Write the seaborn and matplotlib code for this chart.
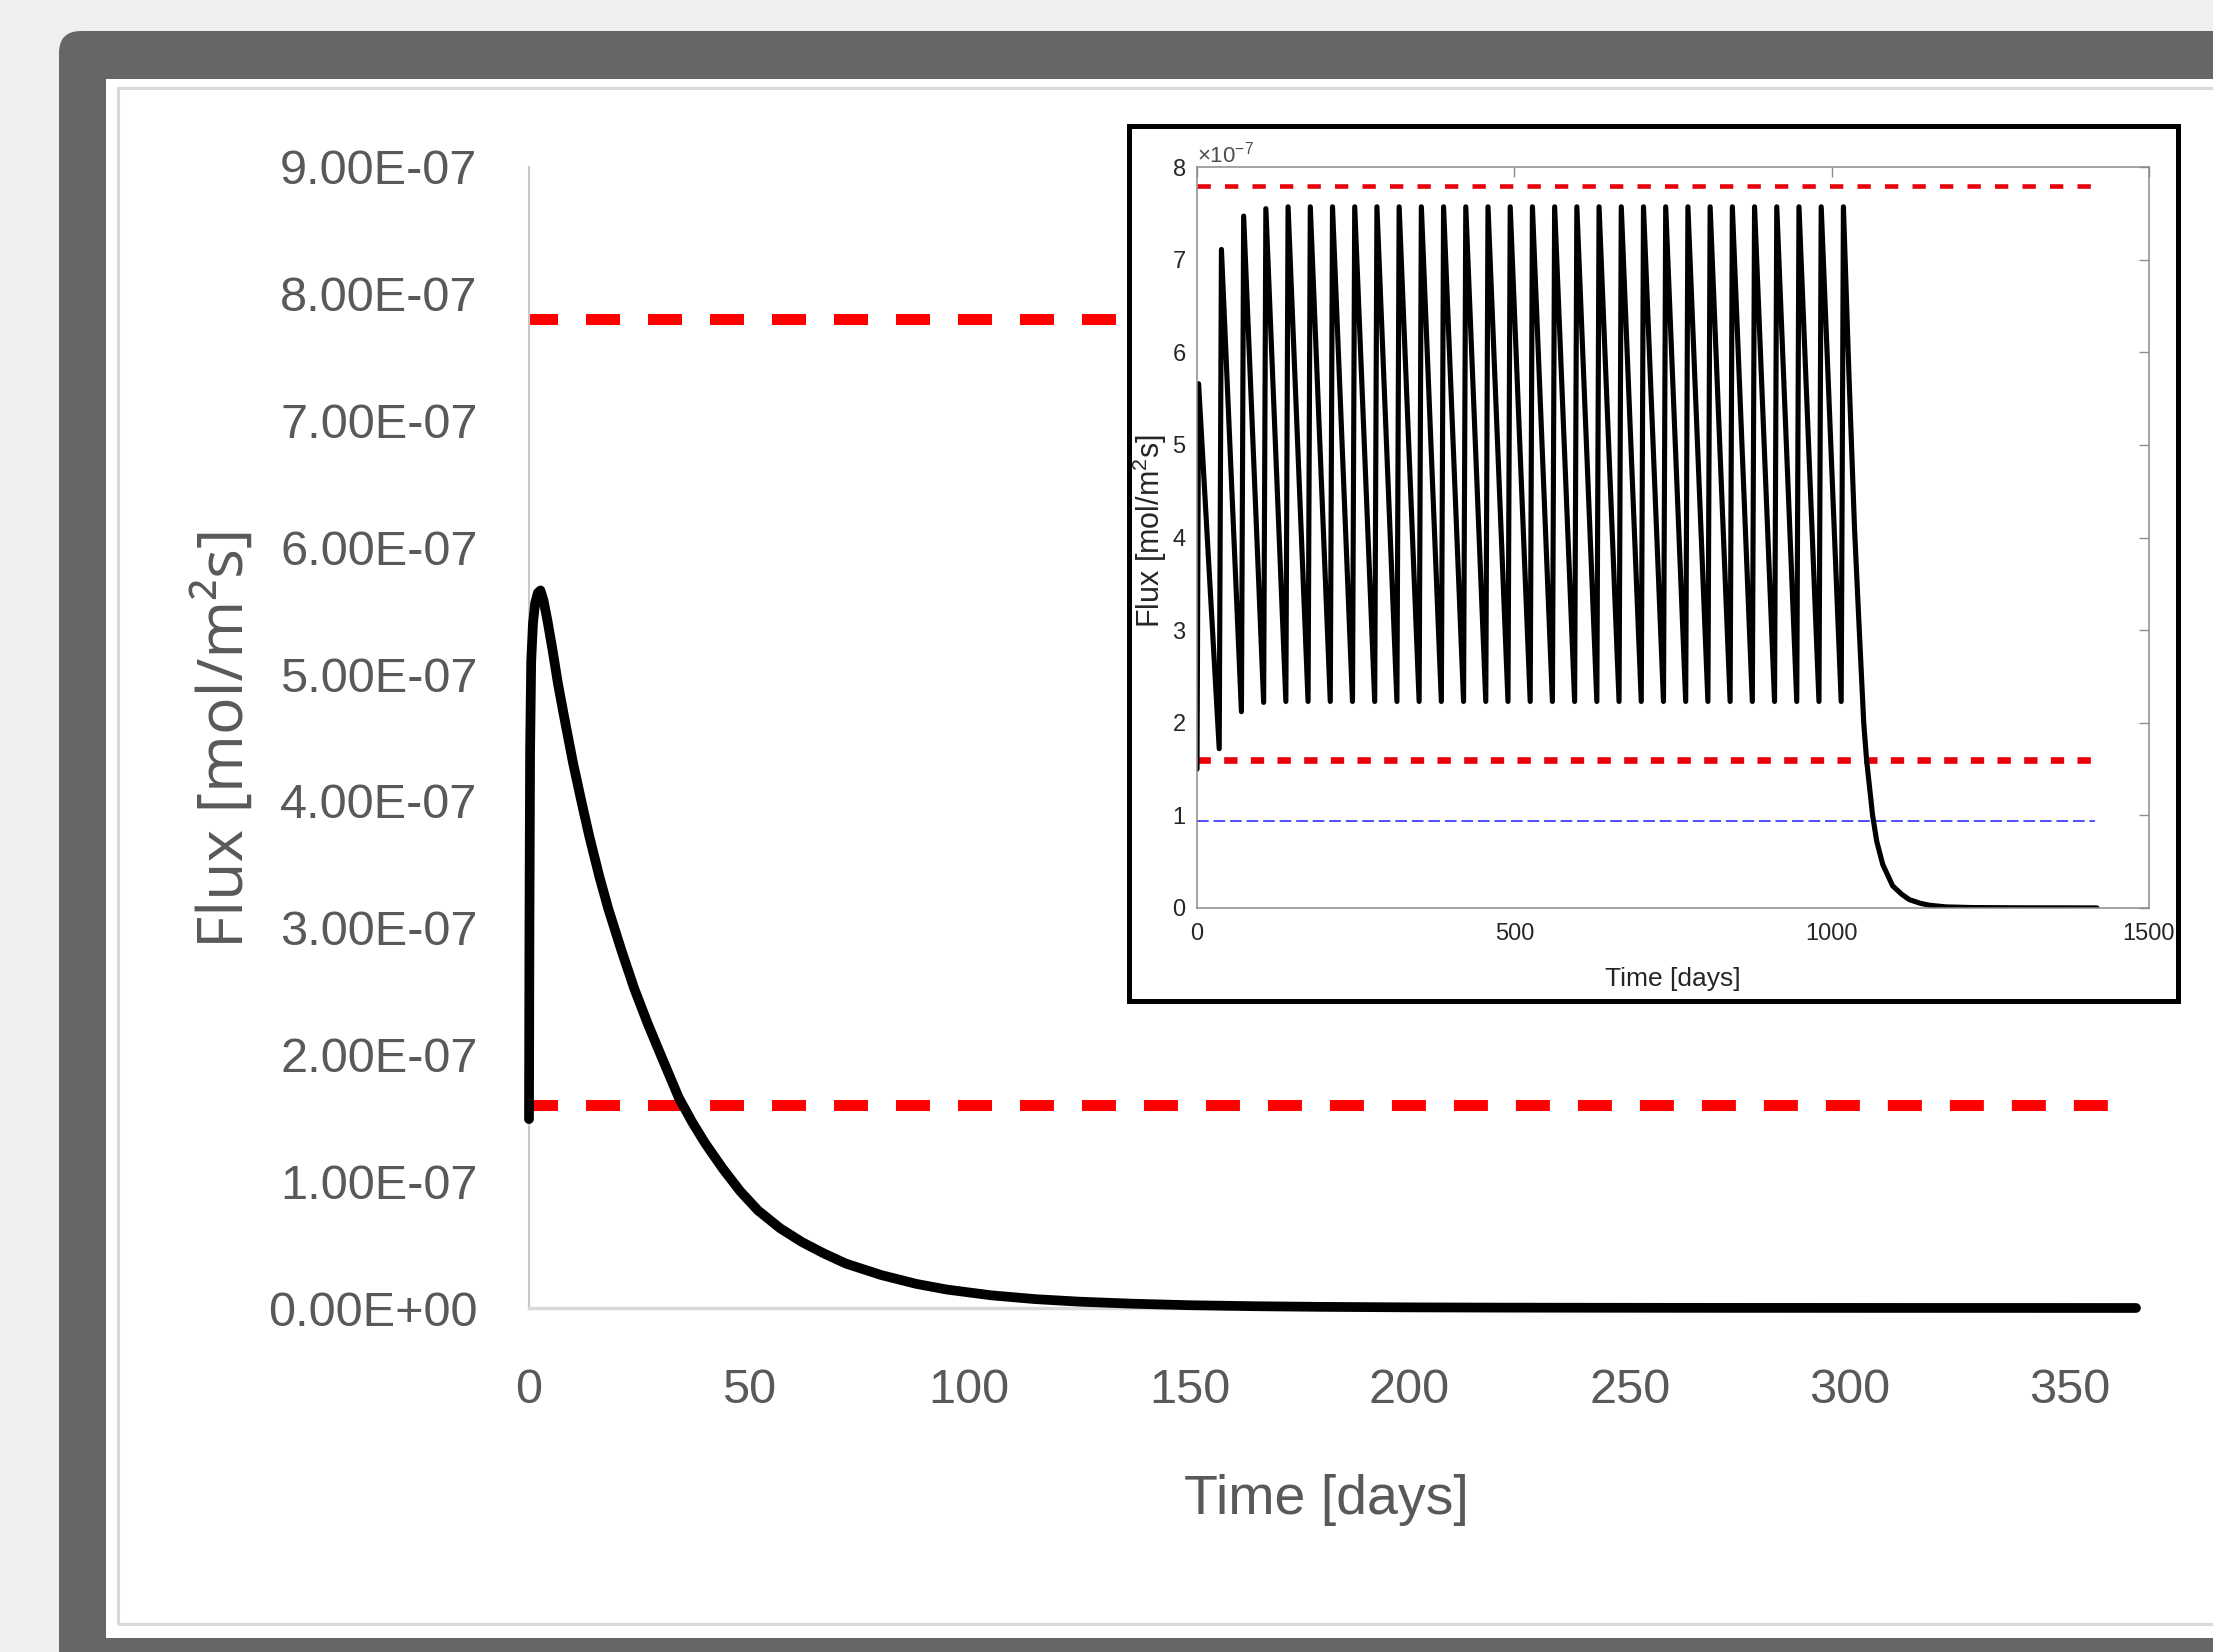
import numpy as np
import pandas as pd
import matplotlib
matplotlib.use('Agg')
import matplotlib.pyplot as plt
import seaborn as sns
from matplotlib import font_manager
from matplotlib.patches import FancyBboxPatch, Rectangle
from matplotlib.transforms import IdentityTransform
from matplotlib.ticker import ScalarFormatter, FuncFormatter

# Flux values are given in units of 1e-7 mol/m2s
flux_unit = 1e-7

# Main chart: one application, first year
main_days = [0, 0.1, 0.25, 0.5, 0.9, 1.4, 2.0, 2.6, 3.3, 4.2, 5.3, 6.6, 8, 10, 12, 13.7, 16, 18, 21, 23.9,
             27, 30, 34, 37, 40, 44, 48, 52, 57, 62, 67, 72, 80, 88, 95, 105, 115, 125, 137, 150,
             165, 180, 200, 220, 245, 270, 320, 365]
main_flux = [1.49, 3.0, 4.4, 5.1, 5.4, 5.56, 5.64, 5.66, 5.58, 5.42, 5.20, 4.92, 4.66, 4.30, 3.98, 3.72,
             3.40, 3.15, 2.82, 2.52, 2.24, 1.99, 1.66, 1.47, 1.30, 1.10, 0.92, 0.77, 0.63, 0.52, 0.43,
             0.35, 0.26, 0.19, 0.145, 0.10, 0.07, 0.05, 0.034, 0.022, 0.014, 0.009, 0.005, 0.003,
             0.0018, 0.001, 0.0005, 0.0002]

# Inset: repeated applications every 35 days
pulse_days = [0, 35, 70, 105, 140, 175, 210, 245, 280, 315, 350, 385, 420, 455, 490,
              525, 560, 595, 630, 665, 700, 735, 770, 805, 840, 875, 910, 945, 980, 1015]
trough_flux = [1.50, 1.72, 2.12, 2.22, 2.23, 2.23, 2.23, 2.23, 2.23, 2.23, 2.23, 2.23, 2.23, 2.23, 2.23,
               2.23, 2.23, 2.23, 2.23, 2.23, 2.23, 2.23, 2.23, 2.23, 2.23, 2.23, 2.23, 2.23, 2.23, 2.23]
peak_days = [2.5, 38.5, 73.5, 108.5, 143.5, 178.5, 213.5, 248.5, 283.5, 318.5, 353.5, 388.5, 423.5, 458.5, 493.5,
             528.5, 563.5, 598.5, 633.5, 668.5, 703.5, 738.5, 773.5, 808.5, 843.5, 878.5, 913.5, 948.5, 983.5, 1018.5]
peak_flux = [5.66, 7.11, 7.47, 7.55, 7.57, 7.57, 7.57, 7.57, 7.57, 7.57, 7.57, 7.57, 7.57, 7.57, 7.57,
             7.57, 7.57, 7.57, 7.57, 7.57, 7.57, 7.57, 7.57, 7.57, 7.57, 7.57, 7.57, 7.57, 7.57, 7.57]
tail_days = [1027, 1036, 1043.5, 1050.5, 1055, 1064.5, 1071, 1080.5, 1096, 1110, 1122.5, 1140, 1154,
             1180, 1220, 1300, 1418]
tail_flux = [5.8, 4.1, 3.0, 2.0, 1.6, 1.0, 0.72, 0.47, 0.24, 0.15, 0.09, 0.05, 0.03,
             0.012, 0.005, 0.002, 0.001]

# Threshold lines
upper_limit = 7.8
lower_limit = 1.6
blue_limit = 0.94
main_line_end = 359
inset_line_end = 1415

# Ticks
main_xticks = [0, 50, 100, 150, 200, 250, 300, 350]
main_yticks = [0, 1, 2, 3, 4, 5, 6, 7, 8, 9]
inset_xticks = [0, 500, 1000, 1500]
inset_yticks = [0, 1, 2, 3, 4, 5, 6, 7, 8]

# Build data frames
main_df = pd.DataFrame({'day': main_days, 'flux': np.array(main_flux) * flux_unit})
inset_rows = []
for d0, f0, d1, f1 in zip(pulse_days, trough_flux, peak_days, peak_flux):
    inset_rows.append((d0, f0))
    inset_rows.append((d1, f1))
inset_rows += list(zip(tail_days, tail_flux))
inset_df = pd.DataFrame(inset_rows, columns=['day', 'flux'])
inset_df['flux'] = inset_df['flux'] * flux_unit


def has_font(name):
    try:
        font_manager.findfont(font_manager.FontProperties(family=name), fallback_to_default=False)
        return True
    except ValueError:
        return False


# Condensed font for the squeezed Excel labels
if has_font('Liberation Sans Narrow'):
    narrow, tick_fs, xlab_fs = 'Liberation Sans Narrow', 44, 50
elif has_font('DejaVu Sans Condensed'):
    narrow, tick_fs, xlab_fs = 'DejaVu Sans Condensed', 39, 43
else:
    narrow, tick_fs, xlab_fs = 'Liberation Sans', 35, 40
wide = 'Open Sans' if has_font('Open Sans') else 'DejaVu Sans'
matlab_font = 'Liberation Sans'

sns.set_style('white')
plt.rcParams['font.family'] = [matlab_font, 'DejaVu Sans']
plt.rcParams['mathtext.default'] = 'regular'

W, H = 2213, 1652
fig = plt.figure(figsize=(W / 100, H / 100), dpi=100)
fig.patch.set_facecolor('#efefef')

# Screenshot frame (pixel coordinates)
fig.add_artist(FancyBboxPatch((59, -60), 2400, H + 60 - 31, boxstyle='round,pad=0,rounding_size=22',
                              transform=IdentityTransform(), fc='#666666', ec='none', zorder=-10))
fig.add_artist(Rectangle((106, H - 1638), 2400, 1638 - 79, transform=IdentityTransform(),
                         fc='white', ec='none', zorder=-9))
fig.add_artist(Rectangle((117.5, H - 1624), 2400, 1624 - 88, transform=IdentityTransform(),
                         fc='none', ec='#d9d9d9', lw=2.2, zorder=-8))

# Main chart
ax = fig.add_axes([529 / W, (H - 1308) / H, 1607 / W, 1141 / H])
ax.set_facecolor('none')
red_style = dict(color='#ff0000', lw=7.9, linestyle=(0.5, (3.1, 2.55)), dash_capstyle='butt', clip_on=False)
ax.plot([0, main_line_end], [upper_limit * flux_unit] * 2, **red_style)
ax.plot([0, main_line_end], [lower_limit * flux_unit] * 2, **red_style)
sns.lineplot(data=main_df, x='day', y='flux', ax=ax, color='black', lw=7, sort=False,
             errorbar=None, clip_on=False, zorder=3)
ax.set_xlim(0, 365)
ax.set_ylim(0, 9 * flux_unit)
ax.set_xticks(main_xticks)
ax.set_yticks([v * flux_unit for v in main_yticks])
ax.yaxis.set_major_formatter(FuncFormatter(lambda v, pos: '{:.2E}'.format(v)))
ax.tick_params(axis='both', length=0, labelcolor='#595959', labelsize=tick_fs)
ax.tick_params(axis='x', pad=43)
ax.tick_params(axis='y', pad=37)
for lab in ax.get_xticklabels() + ax.get_yticklabels():
    lab.set_family(narrow)
for side in ['top', 'right']:
    ax.spines[side].set_visible(False)
ax.spines['left'].set_color('#c8c8c8')
ax.spines['left'].set_linewidth(1.5)
ax.spines['bottom'].set_color('#d9d9d9')
ax.spines['bottom'].set_linewidth(2.5)
ax.set_xlabel('Time [days]', family=narrow, fontsize=xlab_fs, color='#595959', va='center')
ax.xaxis.set_label_coords(0.496, -0.168)
ax.set_ylabel('Flux [mol/m²s]', family=wide, fontsize=45, color='#595959', va='center')
ax.yaxis.set_label_coords(-0.1886, 0.5)

# Inset frame
fig.add_artist(Rectangle((1128.5, H - 1000.5), 1049, 875, transform=IdentityTransform(),
                         fc='white', ec='black', lw=3.6, zorder=1))

# Inset chart
axi = fig.add_axes([1197 / W, (H - 908) / H, 952 / W, 741 / H])
axi.set_zorder(2)
axi.set_facecolor('white')
axi.plot([0, inset_line_end], [upper_limit * flux_unit] * 2, color='#e8000b', lw=3.3,
         dashes=(2.9, 3.1), dash_capstyle='butt')
axi.plot([0, inset_line_end], [lower_limit * flux_unit] * 2, color='#e8000b', lw=4.8,
         dashes=(2.0, 2.0), dash_capstyle='butt')
axi.plot([0, inset_line_end], [blue_limit * flux_unit] * 2, color='#4d4dff', lw=1.4,
         dashes=(6, 2.5))
sns.lineplot(data=inset_df, x='day', y='flux', ax=axi, color='black', lw=3.7, sort=False,
             errorbar=None)
axi.set_xlim(0, 1500)
axi.set_ylim(0, 8 * flux_unit)
axi.set_xticks(inset_xticks)
axi.set_yticks([v * flux_unit for v in inset_yticks])
fmt = ScalarFormatter(useMathText=True)
axi.yaxis.set_major_formatter(fmt)
axi.tick_params(axis='both', direction='in', length=7, width=1, color='#8c8c8c',
                labelcolor='#262626', labelsize=17, top=True, right=True)
axi.tick_params(axis='x', pad=11)
axi.tick_params(axis='y', pad=8)
for spine in axi.spines.values():
    spine.set_color('#8c8c8c')
    spine.set_linewidth(1.1)
axi.yaxis.get_offset_text().set(fontsize=16, color='#4d4d4d')
axi.set_xlabel('Time [days]', fontsize=19, color='#262626', va='center')
axi.xaxis.set_label_coords(0.5, -0.0958)
axi.set_ylabel('Flux [mol/m$^2$s]', fontsize=22, color='#262626', va='center')
axi.yaxis.set_label_coords(-0.0494, 0.509)

fig.savefig('out.png', dpi=100, facecolor=fig.get_facecolor())
